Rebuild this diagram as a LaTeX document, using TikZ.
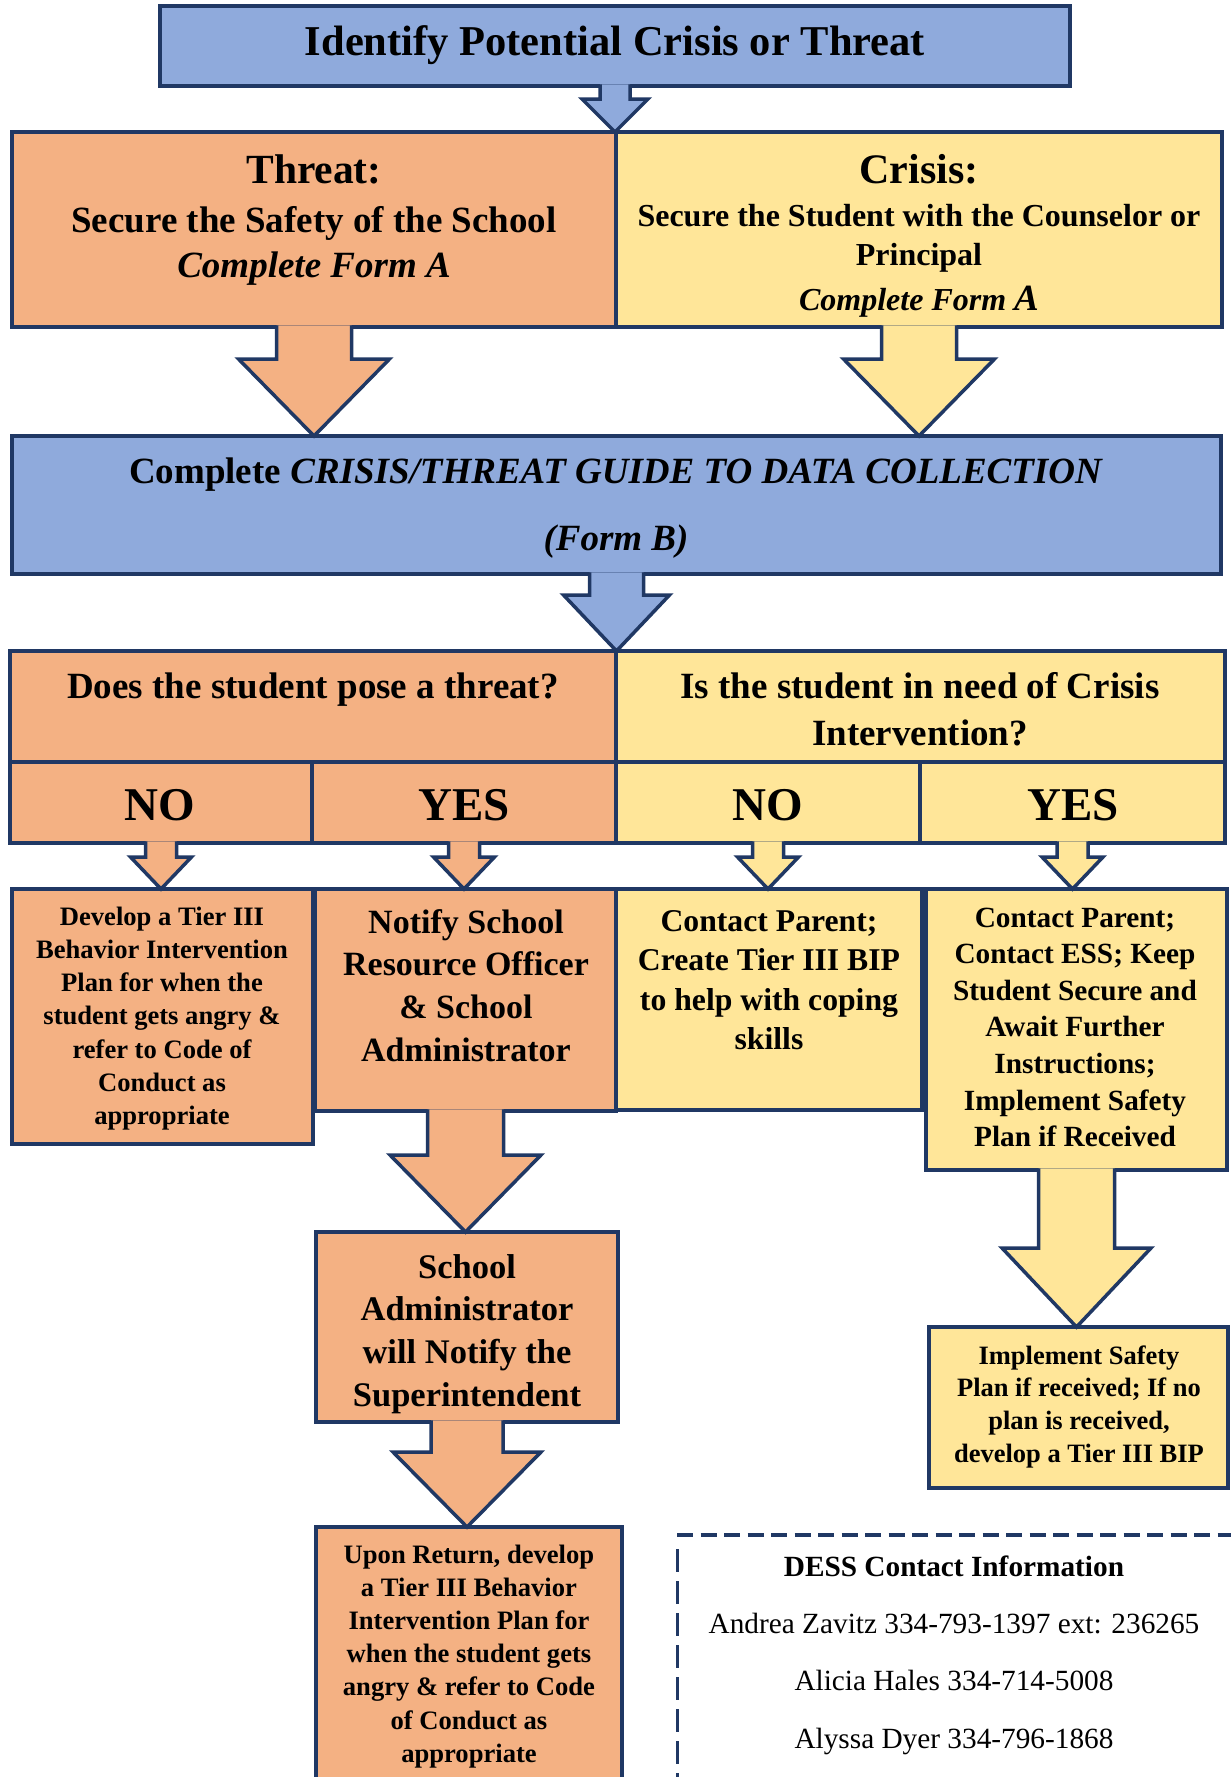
\documentclass[tikz,border=0pt]{standalone}
\usepackage{fontspec}
\setmainfont{Liberation Serif}
\usetikzlibrary{calc}
\definecolor{navy}{HTML}{203864}
\definecolor{cblue}{HTML}{8FAADC}
\definecolor{corange}{HTML}{F4B183}
\definecolor{cyellow}{HTML}{FFE699}
\tikzset{
  box/.style={draw=navy, line width=3.5pt, inner sep=0pt, outer sep=0pt, anchor=north west},
  plainbox/.style={inner sep=0pt, outer sep=0pt, anchor=north west},
  dashedge/.style={draw=navy, line width=3.5pt},
  txt/.style={inner sep=0pt, outer sep=0pt, anchor=base, text=black},
  barrow/.style={draw=navy, line width=3.5pt, line join=miter, miter limit=10},
}
\newcommand{\tb}[3]{\parbox[t]{1100pt}{\centering\fontsize{#1}{#2}\selectfont\bfseries #3}}
\newcommand{\tr}[3]{\parbox[t]{1100pt}{\centering\fontsize{#1}{#2}\selectfont #3}}
\newcommand{\BlockArrow}[6]{%
  \path[barrow, fill=#6] let \p1=(#1.south), \p2=(#2.north) in
    (\x1-#3pt,\y1+1.75pt) -- (\x1-#3pt,\y2+#5pt) -- (\x1-#4pt,\y2+#5pt) -- (\x1,\y2)
    -- (\x1+#4pt,\y2+#5pt) -- (\x1+#3pt,\y2+#5pt) -- (\x1+#3pt,\y1+1.75pt);
}
\begin{document}
\begin{tikzpicture}[x=1pt,y=-1pt]
\useasboundingbox (0,0) rectangle (1231,1777);

% boxes
\node[box, fill=cblue, minimum width=910pt, minimum height=80pt] (title) at (160,6) {};
\node[box, fill=corange, minimum width=604pt, minimum height=195pt] (threat) at (12,132) {};
\node[box, fill=cyellow, minimum width=606pt, minimum height=195pt] (crisis) at (616,132) {};
\node[box, fill=cblue, minimum width=1209pt, minimum height=138pt] (formB) at (12,436) {};
\node[box, fill=corange, minimum width=606pt, minimum height=111pt] (q1) at (10,651) {};
\node[box, fill=cyellow, minimum width=609pt, minimum height=111pt] (q2) at (616,651) {};
\node[box, fill=corange, minimum width=302pt, minimum height=81pt] (no1) at (10,762) {};
\node[box, fill=corange, minimum width=304pt, minimum height=81pt] (yes1) at (312,762) {};
\node[box, fill=cyellow, minimum width=304pt, minimum height=81pt] (no2) at (616,762) {};
\node[box, fill=cyellow, minimum width=305pt, minimum height=81pt] (yes2) at (920,762) {};
\node[box, fill=corange, minimum width=301pt, minimum height=255pt] (b1) at (12,889) {};
\node[box, fill=corange, minimum width=301pt, minimum height=222pt] (b2) at (315,889) {};
\node[box, fill=cyellow, minimum width=306pt, minimum height=221pt] (b3) at (616,889) {};
\node[box, fill=cyellow, minimum width=301pt, minimum height=281pt] (b4) at (926,889) {};
\node[box, fill=corange, minimum width=302pt, minimum height=190pt] (admin) at (316,1232) {};
\node[box, fill=cyellow, minimum width=299pt, minimum height=161pt] (impl) at (929,1327) {};
\node[box, fill=corange, minimum width=306pt, minimum height=300pt] (last) at (316,1527) {};
\node[plainbox, minimum width=600pt, minimum height=300pt] (contact) at (677,1535) {};
\draw[dashedge, dash pattern=on 16pt off 7.5pt] (contact.north west) -- (contact.north east);
\draw[dashedge, line width=3pt, dash pattern=on 23pt off 9pt] ([yshift=-14pt]contact.north west) -- (contact.south west);

% block arrows
\BlockArrow{title}{threat}{15}{33}{33}{cblue}
\BlockArrow{threat}{formB}{37.5}{75.5}{77}{corange}
\BlockArrow{crisis}{formB}{37.5}{75.5}{77}{cyellow}
\BlockArrow{formB}{q1}{27}{53}{56}{cblue}
\BlockArrow{no1}{b1}{15.5}{30.5}{32}{corange}
\BlockArrow{yes1}{b2}{15.5}{30.5}{32}{corange}
\BlockArrow{no2}{b3}{15.5}{30.5}{32}{cyellow}
\BlockArrow{yes2}{b4}{15.5}{30.5}{32}{cyellow}
\BlockArrow{b2}{admin}{38}{75.5}{77}{corange}
\BlockArrow{b4}{impl}{38}{74.5}{79}{cyellow}
\BlockArrow{admin}{last}{36}{74}{75}{corange}

% texts
\node[txt] (tTitle) at (615,56) {\tb{42.5}{50}{Identify Potential Crisis or Threat}};
\node[txt] (tThreat1) at (314,183) {\tb{41.5}{48}{Threat:}};
\node[txt] (tThreat2) at (314,232) {\tb{37}{44}{Secure the Safety of the School}};
\node[txt] (tThreat3) at (314,277) {\tb{37}{44}{\itshape Complete Form A}};
\node[txt] (tCrisis1) at (919,183) {\tb{42}{48}{Crisis:}};
\node[txt] (tCrisis2) at (919,226) {\tb{32}{39}{Secure the Student with the Counselor or\\Principal}};
\node[txt] (tCrisis3) at (919,310) {\tb{32}{39}{\itshape Complete Form {\fontsize{37}{39}\selectfont A}}};
\node[txt] (tFormB) at (616,483) {\tb{37}{67}{Complete \textit{CRISIS/THREAT GUIDE TO DATA COLLECTION}\\\textit{(Form B)}}};
\node[txt] (tq1) at (313,698) {\tb{37}{47}{Does the student pose a threat?}};
\node[txt] (tq2) at (920,698) {\tb{37}{47}{Is the student in need of Crisis\\Intervention?}};
\node[txt] (tno1) at (160,820) {\tb{47}{50}{NO}};
\node[txt] (tyes1) at (464,820) {\tb{47}{50}{YES}};
\node[txt] (tno2) at (768,820) {\tb{47}{50}{NO}};
\node[txt] (tyes2) at (1073,820) {\tb{47}{50}{YES}};
\node[txt] (tb1) at (162,925) {\tb{26.6}{33.3}{Develop a Tier III\\Behavior Intervention\\Plan for when the\\student gets angry \&\\refer to Code of\\Conduct as\\appropriate}};
\node[txt] (tb2) at (466,933) {\tb{34}{42.7}{Notify School\\Resource Officer\\\& School\\Administrator}};
\node[txt] (tb3) at (769,931) {\tb{31.7}{39.5}{Contact Parent;\\Create Tier III BIP\\to help with coping\\skills}};
\node[txt] (tb4) at (1075,927) {\tb{29.3}{36.6}{Contact Parent;\\Contact ESS; Keep\\Student Secure and\\Await Further\\Instructions;\\Implement Safety\\Plan if Received}};
\node[txt] (tadmin) at (467,1278) {\tb{34.5}{42.7}{School\\Administrator\\will Notify the\\Superintendent}};
\node[txt] (timpl) at (1079,1364) {\tb{26.5}{32.7}{Implement Safety\\Plan if received; If no\\plan is received,\\develop a Tier III BIP}};
\node[txt] (tlast) at (469,1563) {\tb{26.6}{33.2}{Upon Return, develop\\a Tier III Behavior\\Intervention Plan for\\when the student gets\\angry \& refer to Code\\of Conduct as\\appropriate}};
\node[txt] (tc1) at (954,1576) {\tb{29.3}{35}{DESS Contact Information}};
\node[txt] (tc2) at (954,1633) {\tr{29.3}{35}{Andrea Zavitz 334-793-1397 ext: 236265}};
\node[txt] (tc3) at (954,1690) {\tr{29.3}{35}{Alicia Hales 334-714-5008}};
\node[txt] (tc4) at (954,1748) {\tr{29.3}{35}{Alyssa Dyer 334-796-1868}};
\end{tikzpicture}
\end{document}
